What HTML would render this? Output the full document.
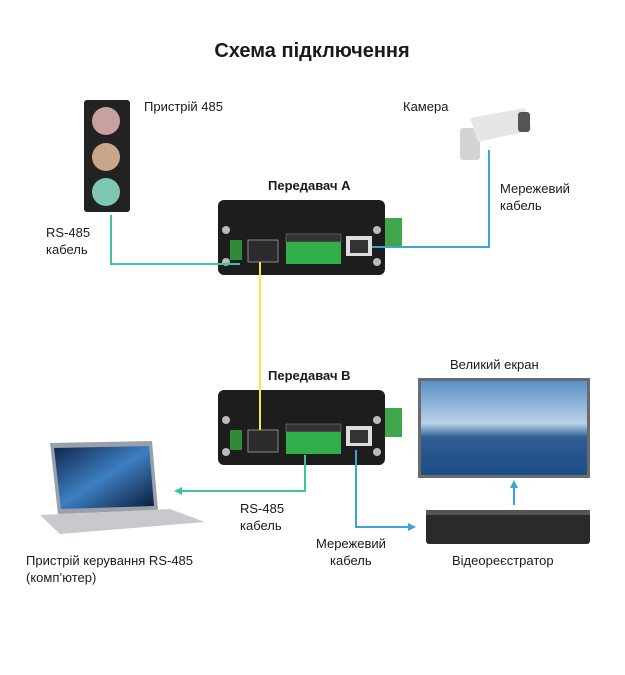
<!DOCTYPE html>
<html><head><meta charset="utf-8"><style>
body{margin:0;background:#fff;width:625px;height:670px;overflow:hidden}
text{font-family:"Liberation Sans",sans-serif;fill:#1a1a1a}
</style></head><body>
<svg width="625" height="670" viewBox="0 0 625 670" xmlns="http://www.w3.org/2000/svg">
<defs>
<linearGradient id="tv" x1="0" y1="0" x2="0" y2="1"><stop offset="0" stop-color="#5b8fc6"/><stop offset="0.45" stop-color="#b9d2e8"/><stop offset="0.6" stop-color="#2e5e93"/><stop offset="1" stop-color="#1c4c86"/></linearGradient>
<linearGradient id="lap" x1="0" y1="0" x2="1" y2="1"><stop offset="0" stop-color="#10254d"/><stop offset="0.5" stop-color="#3d7fc2"/><stop offset="1" stop-color="#0b1a38"/></linearGradient>
<g id="dev">
<rect x="0" y="0" width="167" height="75" rx="6" fill="#1d1d1d"/>
<rect x="167" y="18" width="17" height="29" fill="#3fa64a"/>
<circle cx="8" cy="30" r="4" fill="#bbb"/><circle cx="159" cy="30" r="4" fill="#bbb"/>
<circle cx="8" cy="62" r="4" fill="#bbb"/><circle cx="159" cy="62" r="4" fill="#bbb"/>
<rect x="12" y="40" width="12" height="20" fill="#2f8a3a"/>
<rect x="30" y="40" width="30" height="22" fill="#2b2b2b" stroke="#888"/>
<rect x="68" y="34" width="55" height="8" fill="#333" stroke="#888" stroke-width="0.5"/>
<rect x="68" y="42" width="55" height="22" fill="#2fae4a"/>
<rect x="128" y="36" width="26" height="20" fill="#ddd"/>
<rect x="132" y="40" width="18" height="13" fill="#333"/>
</g>
</defs>
<text x="312" y="57" font-size="20" font-weight="bold" text-anchor="middle" fill="#111">Схема підключення</text>

<!-- traffic light -->
<rect x="84" y="100" width="46" height="112" rx="3" fill="#222"/>
<circle cx="106" cy="121" r="14" fill="#c9a0a0"/>
<circle cx="106" cy="157" r="14" fill="#c9a687"/>
<circle cx="106" cy="192" r="14" fill="#7fc7b2"/>
<text x="144" y="111" font-size="13">Пристрій 485</text>

<!-- camera -->
<text x="403" y="111" font-size="13">Камера</text>
<rect x="460" y="128" width="20" height="32" rx="3" fill="#d4d4d4"/>
<path d="M470 118 L525 108 L532 130 L478 142 Z" fill="#e6e6e6"/>
<rect x="518" y="112" width="12" height="20" rx="3" fill="#555"/>

<text x="500" y="193" font-size="13">Мережевий</text>
<text x="500" y="210" font-size="13">кабель</text>
<text x="46" y="237" font-size="13">RS-485</text>
<text x="46" y="254" font-size="13">кабель</text>

<text x="268" y="190" font-size="13" font-weight="bold">Передавач A</text>
<use href="#dev" x="218" y="200"/>
<text x="268" y="380" font-size="13" font-weight="bold">Передавач B</text>
<use href="#dev" x="218" y="390"/>

<!-- lines -->
<polyline points="111,215 111,264 240,264" fill="none" stroke="#3cc3a3" stroke-width="2"/>
<polyline points="489,150 489,247 372,247" fill="none" stroke="#3aa6d3" stroke-width="2"/>
<line x1="260" y1="262" x2="260" y2="430" stroke="#f0e94a" stroke-width="2"/>
<polyline points="305,455 305,491 180,491" fill="none" stroke="#3cc3a3" stroke-width="2"/>
<path d="M174 491 L182 487 L182 495 Z" fill="#3cc3a3"/>
<polyline points="356,450 356,527 410,527" fill="none" stroke="#3aa6d3" stroke-width="2"/>
<path d="M416 527 L408 523 L408 531 Z" fill="#3aa6d3"/>
<line x1="514" y1="505" x2="514" y2="486" stroke="#3aa6d3" stroke-width="2"/>
<path d="M514 480 L510 488 L518 488 Z" fill="#3aa6d3"/>

<!-- TV -->
<text x="450" y="369" font-size="13">Великий екран</text>
<rect x="418" y="378" width="172" height="100" fill="#6b6b6b"/>
<rect x="421" y="381" width="166" height="94" fill="url(#tv)"/>

<!-- DVR -->
<rect x="426" y="510" width="164" height="34" rx="3" fill="#2a2a2a"/>
<rect x="426" y="510" width="164" height="5" fill="#555"/>
<text x="452" y="565" font-size="13">Відеореєстратор</text>
<text x="316" y="548" font-size="13">Мережевий</text>
<text x="330" y="565" font-size="13">кабель</text>
<text x="240" y="513" font-size="13">RS-485</text>
<text x="240" y="530" font-size="13">кабель</text>

<!-- laptop -->
<path d="M50 443 L152 441 L158 510 L58 514 Z" fill="#9aa0a8"/>
<path d="M54 448 L149 446 L154 506 L61 509 Z" fill="url(#lap)"/>
<path d="M40 515 L170 509 L205 522 L60 534 Z" fill="#c7c9cd"/>
<text x="26" y="565" font-size="13">Пристрій керування RS-485</text>
<text x="26" y="582" font-size="13">(комп’ютер)</text>
</svg>
</body></html>
